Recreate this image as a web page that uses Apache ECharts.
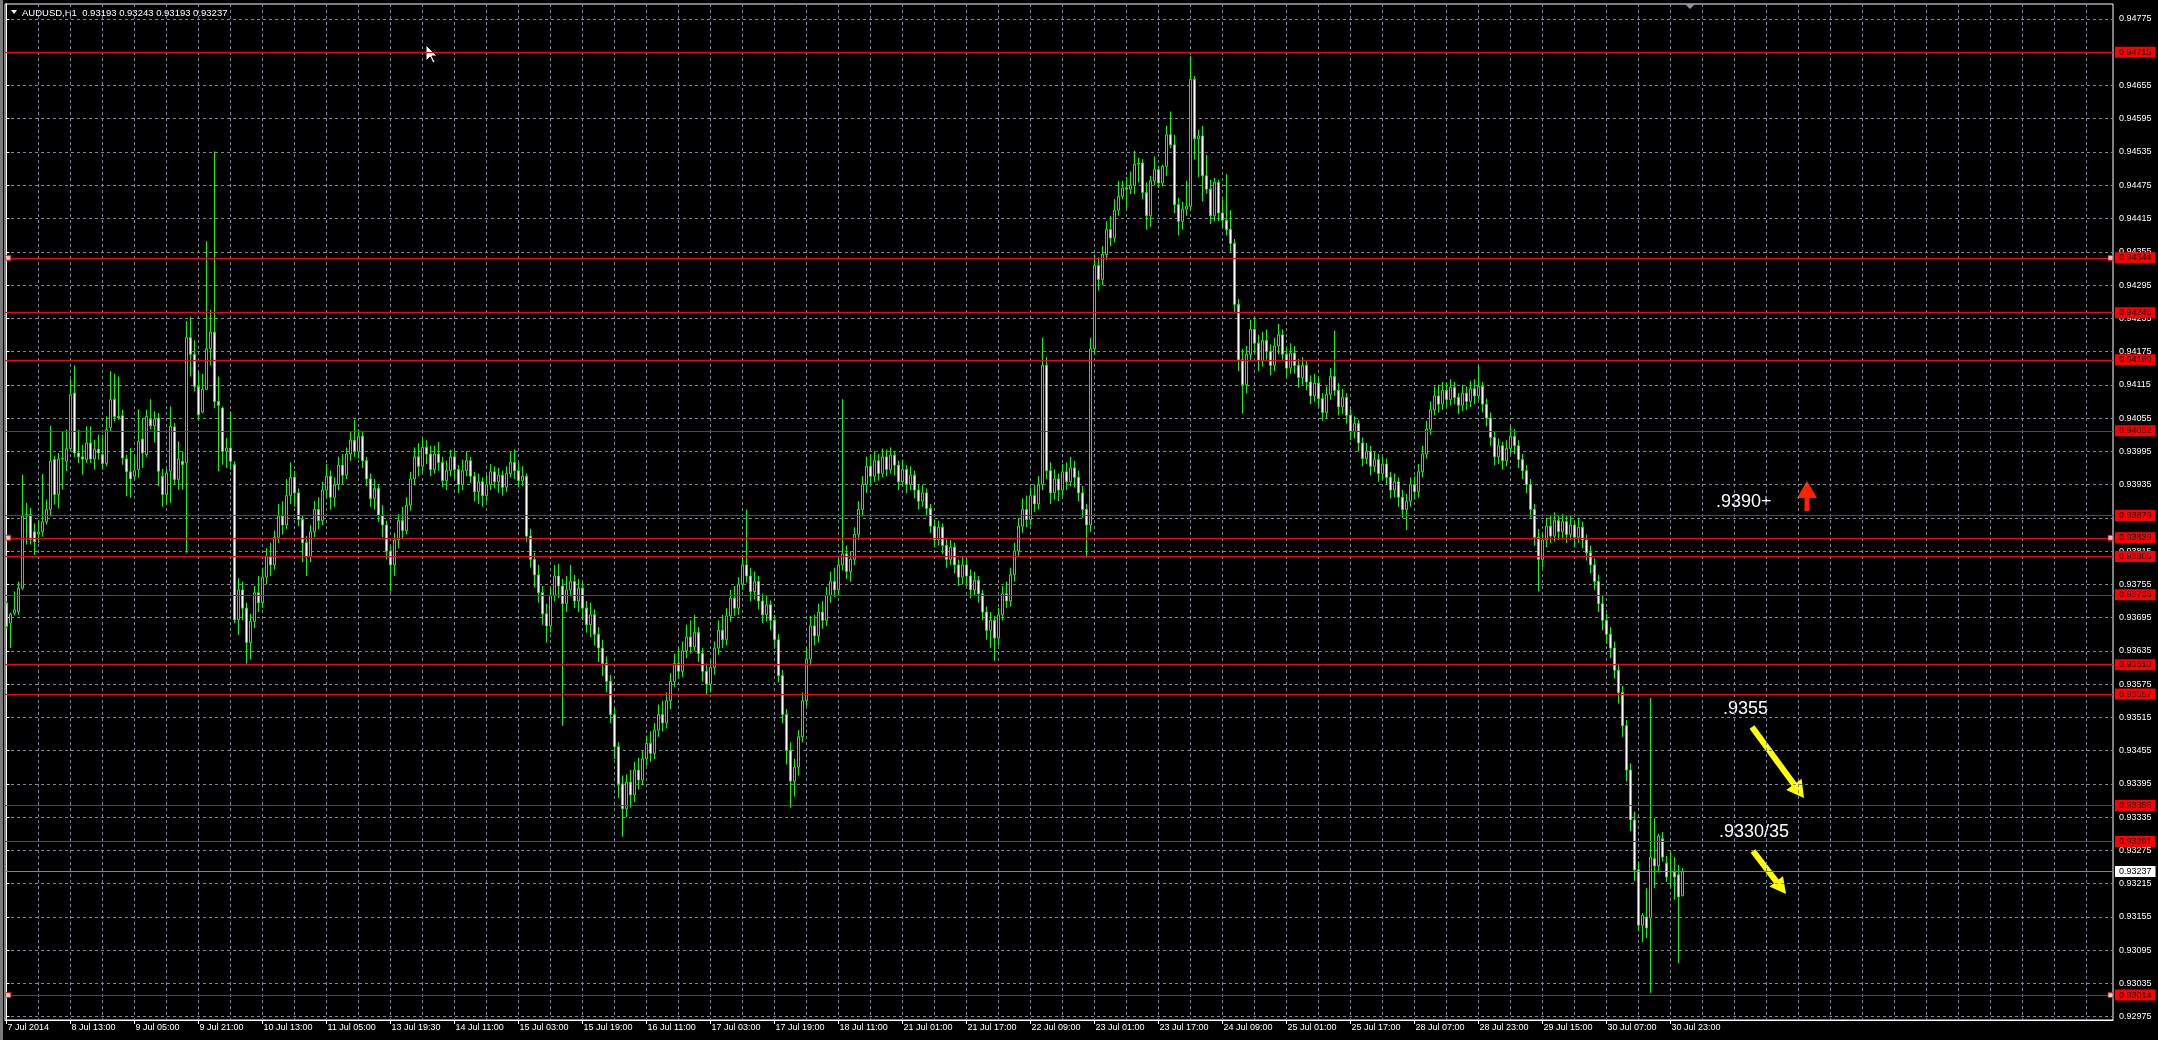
<!DOCTYPE html>
<html><head><meta charset="utf-8">
<script src="https://cdn.jsdelivr.net/npm/echarts@6/dist/echarts.min.js"></script>
<style>html,body{margin:0;padding:0;background:#000;overflow:hidden}#c{width:2158px;height:1040px}</style>
</head><body><div id="c"></div><script>
// prices in units of 0.00001 above 0.90000 (e.g. 3237 = 0.93237), one entry per H1 bar
const open=[3721,3685,3703,3706,3748,3878,3881,3850,3846,3850,3868,3890,3980,3917,3981,3977,4000,4100,3992,3985,
3980,4010,3981,3999,3989,3973,4038,4089,4058,4059,3981,3958,3950,3962,4017,3989,4053,4041,4055,3950,
3917,3959,4039,3944,3977,3974,4200,4170,4112,4066,4107,4180,4210,4085,4073,3995,4001,3971,3691,3745,
3712,3650,3688,3740,3722,3768,3806,3790,3840,3878,3862,3915,3948,3920,3872,3830,3805,3850,3890,3870,
3925,3950,3912,3935,3970,3952,3990,4015,3995,4022,3978,3945,3910,3928,3880,3862,3815,3790,3835,3870,
3852,3898,3945,3985,3968,4002,3990,3962,3990,3975,3942,3960,3985,3962,3935,3960,3978,3950,3922,3940,
3915,3935,3958,3940,3952,3930,3955,3975,3960,3942,3950,3842,3800,3772,3740,3702,3680,3735,3770,3752,
3720,3745,3760,3725,3748,3712,3682,3700,3665,3640,3612,3580,3520,3462,3395,3350,3398,3375,3420,3402,
3440,3468,3450,3492,3520,3505,3545,3580,3612,3598,3635,3660,3642,3668,3630,3598,3575,3605,3640,3672,
3655,3698,3730,3712,3755,3790,3770,3742,3760,3725,3700,3718,3690,3655,3590,3520,3455,3400,3425,3480,
3545,3620,3680,3662,3705,3690,3735,3760,3745,3790,3810,3778,3800,3845,3890,3935,3968,3950,3978,3955,
3985,3962,3988,3970,3940,3962,3935,3952,3925,3905,3920,3892,3860,3835,3858,3825,3800,3822,3790,3768,
3790,3770,3745,3762,3738,3705,3672,3690,3658,3700,3738,3725,3772,3815,3860,3890,3872,3915,3900,3935,
4150,3960,3920,3945,3925,3958,3940,3965,3948,3920,3890,3862,4180,4330,4305,4350,4395,4380,4430,4455,
4470,4468,4475,4513,4515,4462,4420,4483,4503,4479,4509,4566,4548,4440,4410,4432,4437,4666,4559,4564,
4492,4468,4420,4480,4425,4412,4395,4370,4260,4160,4115,4170,4215,4190,4158,4195,4175,4150,4185,4205,
4170,4145,4172,4150,4128,4150,4120,4095,4118,4090,4065,4098,4130,4105,4075,4092,4060,4030,4045,4010,
3982,3995,3968,3980,3955,3972,3948,3925,3940,3912,3890,3905,3935,3922,3958,3990,4035,4070,4095,4080,
4105,4088,4110,4092,4078,4100,4085,4108,4095,4112,4080,4055,4020,3985,4005,3978,4000,4022,4005,3980,
3960,3935,3890,3840,3800,3835,3860,3842,3870,3850,3868,3845,3862,3840,3858,3835,3812,3790,3760,3720,
3690,3665,3640,3600,3560,3500,3420,3330,3240,3140,3155,3153,3260,3247,3296,3252,3236,3236,3231,3193];
const high=[3725,3704,3742,3760,3953,3902,3893,3865,3871,3954,3908,4041,3987,3992,4031,4034,4125,4150,4034,4007,
4040,4040,4016,4025,4025,4058,4140,4135,4130,4070,3989,4001,3989,4071,4055,4070,4089,4067,4064,3963,
3963,4076,4046,4013,3995,4230,4238,4195,4140,4135,4374,4250,4536,4130,4076,4019,4067,3977,3766,3760,
3722,3702,3752,3770,3785,3820,3830,3852,3900,3905,3945,3975,3960,3928,3880,3842,3862,3905,3912,3940,
3972,3960,3948,3985,3990,4002,4030,4052,4035,4030,3985,3955,3945,3935,3898,3870,3825,3848,3882,3895,
3912,3958,4002,4010,4018,4015,4005,4005,4012,3985,3978,3998,3995,3970,3980,3995,3985,3958,3955,3948,
3952,3972,3968,3965,3960,3968,3995,3998,3975,3968,3955,3855,3812,3790,3752,3720,3748,3790,3792,3765,
3770,3790,3772,3765,3758,3725,3722,3710,3678,3655,3625,3592,3532,3470,3410,3412,3420,3435,3442,3455,
3482,3490,3505,3538,3545,3560,3595,3630,3640,3652,3682,3690,3700,3678,3640,3612,3618,3652,3690,3700,
3712,3745,3752,3768,3808,3890,3785,3778,3770,3738,3735,3726,3700,3665,3600,3530,3470,3440,3492,3560,
3640,3698,3700,3720,3725,3750,3778,3785,3805,4089,3825,3815,3858,3905,3950,3985,3990,3995,3990,4000,
3998,4002,3995,3978,3980,3970,3968,3960,3935,3935,3928,3900,3872,3870,3865,3838,3835,3830,3800,3805,
3802,3782,3778,3770,3745,3715,3705,3698,3712,3752,3760,3785,3830,3875,3910,3915,3930,3935,3950,4200,
4165,3975,3962,3955,3972,3975,3985,3978,3960,3932,3900,4200,4350,4345,4365,4410,4420,4450,4483,4483,
4490,4500,4537,4525,4522,4480,4492,4527,4510,4512,4582,4608,4566,4452,4445,4483,4708,4672,4575,4582,
4530,4485,4488,4485,4450,4495,4430,4378,4270,4180,4185,4232,4238,4205,4210,4215,4188,4200,4225,4215,
4182,4190,4185,4162,4165,4160,4132,4135,4128,4100,4112,4145,4213,4118,4108,4100,4072,4058,4052,4020,
4010,4005,3995,3990,3985,3982,3958,3955,3948,3925,3918,3948,3950,3972,4005,4050,4085,4112,4115,4120,
4118,4125,4120,4100,4115,4112,4122,4125,4151,4120,4090,4065,4030,4018,4012,4015,4040,4035,4015,3990,
3970,3945,3900,3855,3848,3875,3880,3885,3880,3882,3878,3878,3870,3875,3868,3845,3825,3802,3772,3735,
3702,3678,3652,3612,3572,3510,3432,3345,3255,3162,3207,3550,3333,3305,3308,3265,3272,3263,3249,3243];
const low=[3675,3640,3699,3700,3745,3827,3827,3808,3830,3841,3863,3878,3899,3892,3926,3959,3995,3985,3974,3953,
3974,3974,3962,3980,3962,3968,4030,4049,4052,3971,3914,3911,3944,3947,3965,3985,4035,4011,3932,3895,
3899,3902,3935,3926,3926,3812,4130,4103,4052,4064,4105,4150,4073,3959,3971,3965,3962,3685,3664,3690,
3612,3620,3676,3705,3712,3755,3770,3782,3830,3845,3855,3900,3895,3860,3795,3770,3795,3840,3855,3862,
3910,3890,3895,3925,3935,3945,3978,3985,3982,3965,3932,3895,3890,3868,3840,3800,3742,3770,3820,3838,
3845,3888,3935,3950,3958,3972,3950,3955,3960,3930,3925,3950,3945,3920,3925,3950,3938,3905,3900,3895,
3905,3925,3928,3920,3915,3922,3948,3945,3930,3932,3832,3785,3750,3722,3682,3650,3668,3725,3730,3500,
3705,3735,3712,3705,3690,3668,3660,3645,3615,3590,3560,3505,3440,3370,3300,3335,3352,3362,3385,3392,
3428,3435,3440,3480,3490,3495,3530,3570,3585,3588,3622,3630,3635,3615,3580,3555,3560,3592,3628,3640,
3645,3688,3698,3700,3745,3758,3725,3728,3710,3685,3688,3672,3640,3578,3505,3430,3352,3372,3410,3470,
3535,3608,3645,3650,3675,3680,3722,3732,3735,3780,3765,3760,3790,3835,3878,3920,3935,3940,3942,3948,
3950,3955,3952,3925,3932,3920,3925,3910,3890,3895,3880,3848,3822,3825,3810,3785,3790,3775,3752,3755,
3752,3730,3735,3722,3690,3655,3640,3617,3645,3690,3712,3715,3760,3805,3848,3858,3862,3885,3890,3925,
3945,3900,3908,3905,3915,3925,3932,3930,3905,3875,3803,3850,4170,4285,4295,4340,4365,4372,4420,4450,
4433,4459,4459,4480,4450,4395,4400,4475,4470,4473,4492,4542,4425,4385,4395,4420,4430,4521,4490,4446,
4460,4405,4410,4410,4400,4385,4355,4245,4140,4064,4100,4158,4172,4140,4148,4160,4132,4140,4170,4158,
4128,4135,4135,4110,4115,4105,4080,4085,4075,4050,4055,4088,4095,4060,4062,4045,4015,4018,3995,3968,
3972,3952,3958,3940,3945,3935,3910,3912,3895,3875,3853,3895,3908,3912,3948,3982,4025,4060,4065,4070,
4075,4078,4080,4062,4068,4070,4075,4080,4088,4065,4040,4005,3970,3972,3962,3968,3990,3990,3965,3945,
3920,3875,3825,3742,3785,3822,3830,3832,3835,3838,3830,3835,3822,3830,3820,3798,3775,3745,3705,3672,
3648,3622,3585,3540,3480,3400,3310,3220,3130,3110,3117,3018,3207,3235,3255,3218,3207,3186,3072,3193];
const close=[3679,3701,3709,3748,3878,3881,3836,3832,3849,3868,3890,3977,3917,3981,3982,4000,4097,3992,3985,3981,
4010,3981,3999,3992,3973,4034,4088,4058,4056,3983,3958,3945,3960,4013,3992,4058,4041,4053,3959,3917,
3956,4040,3944,3981,3971,4200,4170,4112,4061,4107,4180,4210,4085,4078,3995,4001,3977,3691,3745,3712,
3650,3688,3740,3722,3768,3806,3790,3840,3878,3862,3915,3948,3920,3872,3830,3805,3850,3890,3870,3925,
3950,3912,3935,3970,3952,3990,4015,3995,4022,3978,3945,3910,3928,3880,3862,3815,3790,3835,3870,3852,
3898,3945,3985,3968,4002,3990,3962,3990,3975,3942,3960,3985,3962,3935,3960,3978,3950,3922,3940,3915,
3935,3958,3940,3952,3930,3955,3975,3960,3942,3950,3842,3800,3772,3740,3702,3680,3735,3770,3752,3720,
3745,3760,3725,3748,3712,3682,3700,3665,3640,3612,3580,3520,3462,3395,3350,3398,3375,3420,3402,3440,
3468,3450,3492,3520,3505,3545,3580,3612,3598,3635,3660,3642,3668,3630,3598,3575,3605,3640,3672,3655,
3698,3730,3712,3755,3790,3770,3742,3760,3725,3700,3718,3690,3655,3590,3520,3455,3400,3425,3480,3545,
3620,3680,3662,3705,3690,3735,3760,3745,3790,3810,3778,3800,3845,3890,3935,3968,3950,3978,3955,3985,
3962,3988,3970,3940,3962,3935,3952,3925,3905,3920,3892,3860,3835,3858,3825,3800,3822,3790,3768,3790,
3770,3745,3762,3738,3705,3672,3690,3658,3700,3738,3725,3772,3815,3860,3890,3872,3915,3900,3935,4150,
3960,3920,3945,3925,3958,3940,3965,3948,3920,3890,3862,4180,4330,4305,4350,4395,4380,4430,4455,4470,
4468,4475,4513,4515,4462,4420,4483,4503,4479,4509,4566,4548,4440,4410,4432,4437,4666,4559,4564,4492,
4468,4420,4480,4425,4412,4395,4370,4260,4160,4115,4170,4215,4190,4158,4195,4175,4150,4185,4205,4170,
4145,4172,4150,4128,4150,4120,4095,4118,4090,4065,4098,4130,4105,4075,4092,4060,4030,4045,4010,3982,
3995,3968,3980,3955,3972,3948,3925,3940,3912,3890,3905,3935,3922,3958,3990,4035,4070,4095,4080,4105,
4088,4110,4092,4078,4100,4085,4108,4095,4112,4080,4055,4020,3985,4005,3978,4000,4022,4005,3980,3960,
3935,3890,3840,3800,3835,3860,3842,3870,3850,3868,3845,3862,3840,3858,3835,3812,3790,3760,3720,3690,
3665,3640,3600,3560,3500,3420,3330,3240,3140,3158,3135,3263,3247,3301,3263,3227,3237,3227,3191,3237];

const priceTicks=[2975,3035,3095,3155,3215,3275,3335,3395,3455,3515,3575,3635,3695,3755,3815,3875,3935,3995,4055,4115,4175,4235,4295,4355,4415,4475,4535,4595,4655,4715,4775];
const levels=[4715,4344,4245,4160,4032,3879,3839,3805,3736,3610,3557,3356,3291,3014];
const selectedLevels=[4344,3839,3014];
const lastPrice=3237;
const timeTickBars=[0,16,32,48,64,80,96,112,128,144,160,176,192,208,224,240,256,272,288,304,320,336,352,368,384,400,416];
const timeTickLabels=["7 Jul 2014","8 Jul 13:00","9 Jul 05:00","9 Jul 21:00","10 Jul 13:00","11 Jul 05:00","13 Jul 19:30","14 Jul 11:00","15 Jul 03:00","15 Jul 19:00","16 Jul 11:00","17 Jul 03:00","17 Jul 19:00","18 Jul 11:00","21 Jul 01:00","21 Jul 17:00","22 Jul 09:00","23 Jul 01:00","23 Jul 17:00","24 Jul 09:00","25 Jul 01:00","25 Jul 17:00","28 Jul 07:00","28 Jul 23:00","29 Jul 15:00","30 Jul 07:00","30 Jul 23:00"];
const symbolName="AUDUSD,H1";

const X_MIN=-0.35, X_MAX=526.65, Y_MIN=2969, Y_MAX=4802;
const gridBars=[]; for(let b=8;b<X_MAX;b+=8) gridBars.push(b);
const fmt=v=>'0.9'+String(Math.round(v)).padStart(4,'0');
const FONT='"Liberation Sans", Arial, sans-serif';

const candles=open.map((o,i)=>[i,o,close[i],low[i],high[i]]);
const handles=[];
selectedLevels.forEach(v=>{handles.push([X_MIN+0.82,v]);handles.push([X_MAX-0.62,v]);});
const n=close.length-1;
const titleText=symbolName+'  '+[open[n],high[n],low[n],close[n]].map(fmt).join(' ');

function arrow(x1,y1,x2,y2,sw,hl,hw){
  const dx=x2-x1,dy=y2-y1,L=Math.hypot(dx,dy),ux=dx/L,uy=dy/L,nx=-uy,ny=ux;
  const bx=x2-ux*hl,by=y2-uy*hl;
  return [[x1+nx*sw/2,y1+ny*sw/2],[bx+nx*sw/2,by+ny*sw/2],[bx+nx*hw/2,by+ny*hw/2],[x2,y2],
          [bx-nx*hw/2,by-ny*hw/2],[bx-nx*sw/2,by-ny*sw/2],[x1-nx*sw/2,y1-ny*sw/2]];
}

const chart=echarts.init(document.getElementById('c'),null,{renderer:'canvas'});
chart.setOption({
  backgroundColor:'#000',
  animation:false,
  grid:{left:5,top:4,width:2108,height:1016,show:true,borderColor:'#ffffff',borderWidth:1,backgroundColor:'#000',outerBoundsMode:'none'},
  xAxis:[{
    type:'value',min:X_MIN,max:X_MAX,position:'bottom',
    axisLine:{show:true,lineStyle:{color:'#ffffff',width:1}},
    axisTick:{show:true,customValues:timeTickBars,length:4,lineStyle:{color:'#ffffff'}},
    axisLabel:{customValues:timeTickBars,
      formatter:v=>'{t|'+timeTickLabels[timeTickBars.indexOf(v)]+'}',
      color:'#ffffff',fontSize:9,fontFamily:FONT,margin:3,
      rich:{t:{width:60,padding:[0,0,0,62],align:'left',color:'#ffffff',fontSize:9,fontFamily:FONT}}},
    splitLine:{show:false}
  },{
    type:'value',min:X_MIN,max:X_MAX,position:'top',
    axisLine:{show:false},axisLabel:{show:false},
    axisTick:{show:false,customValues:gridBars},
    splitLine:{show:true,lineStyle:{color:'#778899',type:[3,3],width:1}}
  }],
  yAxis:{
    type:'value',position:'right',min:Y_MIN,max:Y_MAX,
    axisLine:{show:true,lineStyle:{color:'#ffffff'}},
    axisTick:{show:true,customValues:priceTicks,length:3,lineStyle:{color:'#ffffff'}},
    axisLabel:{customValues:priceTicks,formatter:fmt,color:'#ffffff',fontSize:9,fontFamily:FONT,margin:6},
    splitLine:{show:true,lineStyle:{color:'#778899',type:[3,3],width:1}}
  },
  series:[{
    type:'candlestick',data:candles,encode:{x:0,y:[1,2,3,4]},xAxisIndex:0,
    barWidth:2,
    itemStyle:{color:'#000000',color0:'#ffffff',borderColor:'#00ff00',borderColor0:'#00ff00',borderColorDoji:'#00ff00',borderWidth:1},
    emphasis:{disabled:true},
    markLine:{
      silent:true,symbol:['none','none'],animation:false,
      lineStyle:{type:'solid',width:1},
      label:{position:'end',formatter:p=>fmt(p.value),fontSize:9,fontFamily:FONT,distance:2,padding:[1,4,0,4],lineHeight:10},
      emphasis:{disabled:true},
      data:levels.map(v=>({yAxis:v,lineStyle:{color:'#ff0000'},label:{backgroundColor:'#ff0000',color:'#000000'}}))
        .concat([{yAxis:lastPrice,lineStyle:{color:'#778899'},label:{backgroundColor:'#ffffff',color:'#000000'}}])
    }
  },{
    type:'scatter',data:handles,symbol:'rect',symbolSize:5,z:5,silent:true,
    itemStyle:{color:'#ffffff',borderColor:'#ff0000',borderWidth:1}
  }],
  graphic:[
    {type:'polygon',shape:{points:[[11,10],[17,10],[14,14]]},style:{fill:'#ffffff'}},
    {type:'text',style:{text:titleText,x:22,y:13,fill:'#ffffff',font:'9.5px '+FONT,verticalAlign:'middle',align:'left'}},
    {type:'polygon',shape:{points:[[1685,4],[1695,4],[1690,9]]},style:{fill:'#8c96a0'}},
    {type:'polygon',shape:{points:[[426,45],[426,61],[430,57],[433,63],[435,62],[432,56],[437,56]]},style:{fill:'#ffffff',stroke:'#000000',lineWidth:1}},
    {type:'text',style:{text:'.9390+',x:1716,y:502,fill:'#ffffff',font:'18px '+FONT,verticalAlign:'middle',align:'left'}},
    {type:'text',style:{text:'.9355',x:1723,y:709,fill:'#ffffff',font:'18px '+FONT,verticalAlign:'middle',align:'left'}},
    {type:'text',style:{text:'.9330/35',x:1719,y:832,fill:'#ffffff',font:'18px '+FONT,verticalAlign:'middle',align:'left'}},
    {type:'polygon',shape:{points:arrow(1807,511,1807,481,5,17,20)},style:{fill:'#ff2200'}},
    {type:'polygon',shape:{points:arrow(1752,727,1804,798,6,17,19)},style:{fill:'#ffff00'}},
    {type:'polygon',shape:{points:arrow(1753,851,1786,894,6,16,17)},style:{fill:'#ffff00'}},
    {type:'rect',shape:{x:0,y:0,width:3,height:1040},style:{fill:'#7a7a7a'}}
  ]
});
</script></body></html>
